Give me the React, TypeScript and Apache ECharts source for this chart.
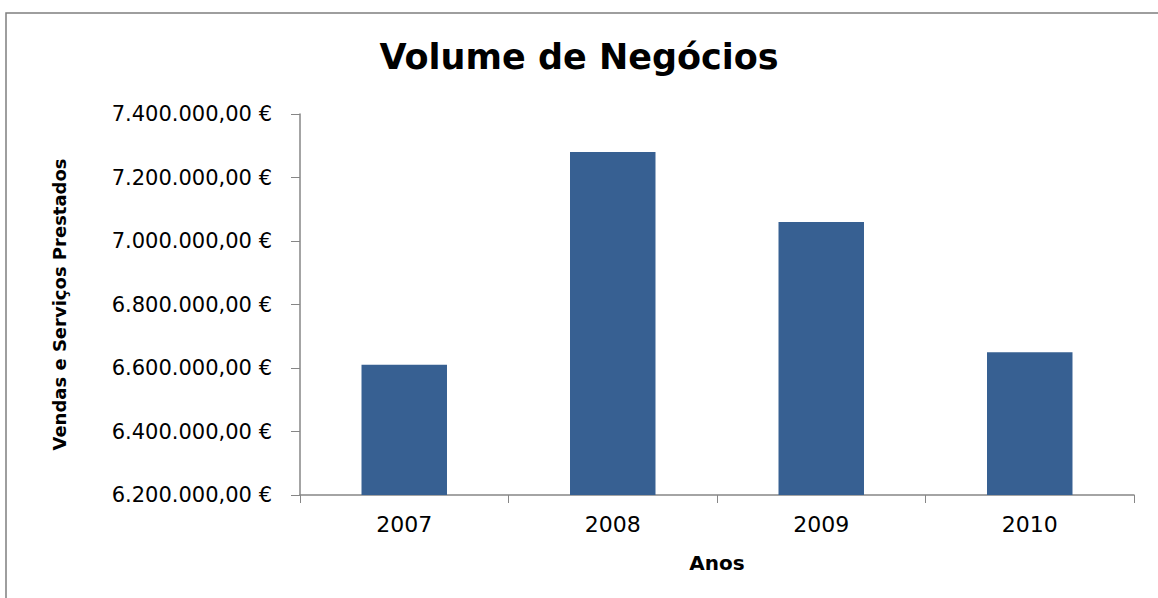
import React, { useEffect, useRef } from "react";
import * as echarts from "echarts";

const years = ["2007", "2008", "2009", "2010"];
const salesValues = [6610000, 7280000, 7060000, 6650000];
const yMin = 6200000;
const yMax = 7400000;
const yStep = 200000;

function formatEuro(v: number): string {
  const fixed = v.toFixed(2);
  const [intPart, dec] = fixed.split(".");
  const withDots = intPart.replace(/\B(?=(\d{3})+(?!\d))/g, ".");
  return `${withDots},${dec} €`;
}

export default function App() {
  const ref = useRef<HTMLDivElement>(null);
  useEffect(() => {
    if (!ref.current) return;
    const chart = echarts.init(ref.current, undefined, { renderer: "svg" });
    const font = "'DejaVu Sans', sans-serif";
    chart.setOption({
      animation: false,
      backgroundColor: "#ffffff",
      title: {
        text: "Volume de Negócios",
        left: "center",
        top: 34,
        textStyle: {
          fontFamily: font,
          fontSize: 35,
          fontWeight: "bold",
          color: "#000000",
        },
      },
      graphic: [
        {
          type: "rect",
          shape: { x: 6, y: 13, width: 1200, height: 700 },
          style: { fill: "none", stroke: "#7f7f7f", lineWidth: 1.5 },
          silent: true,
        },
      ],
      grid: { left: 300, right: 24, top: 114, bottom: 103, containLabel: false },
      xAxis: {
        type: "category",
        data: years,
        name: "Anos",
        nameLocation: "middle",
        nameGap: 58,
        nameTextStyle: { fontFamily: font, fontSize: 20, fontWeight: "bold", color: "#000" },
        axisLine: { lineStyle: { color: "#868686", width: 1.5 } },
        axisTick: { show: true, length: 8, lineStyle: { color: "#868686" } },
        axisLabel: { fontFamily: font, fontSize: 22, color: "#000", margin: 18 },
      },
      yAxis: {
        type: "value",
        min: yMin,
        max: yMax,
        interval: yStep,
        name: "Vendas e Serviços Prestados",
        nameLocation: "middle",
        nameRotate: 90,
        nameGap: 232,
        nameTextStyle: { fontFamily: font, fontSize: 18, fontWeight: "bold", color: "#000" },
        axisLine: { show: true, lineStyle: { color: "#868686", width: 1.5 } },
        axisTick: { show: true, length: 9, lineStyle: { color: "#868686" } },
        splitLine: { show: false },
        axisLabel: {
          fontFamily: font,
          fontSize: 21,
          color: "#000",
          margin: 28,
          formatter: (v: number) => formatEuro(v),
        },
      },
      series: [
        {
          type: "bar",
          data: salesValues,
          barWidth: "41%",
          itemStyle: { color: "#376092" },
        },
      ],
    });
    return () => chart.dispose();
  }, []);
  return (
    <div
      ref={ref}
      style={{ position: "fixed", left: 0, top: 0, width: 1158, height: 598 }}
    />
  );
}
